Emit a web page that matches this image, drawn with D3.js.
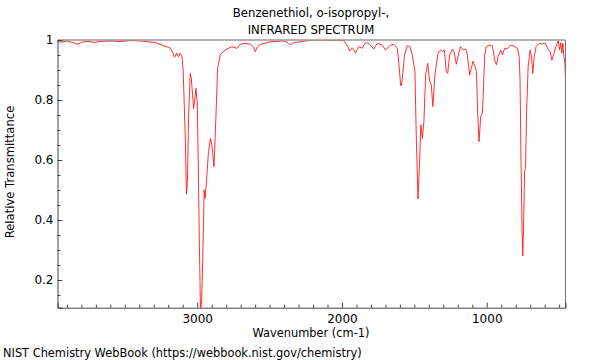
<!DOCTYPE html>
<html><head><meta charset="utf-8">
<script src="https://cdn.jsdelivr.net/npm/d3@7"></script>
<style>
body{margin:0;background:#fff;}
text{font-family:"DejaVu Sans",sans-serif;}
</style></head><body>
<svg id="c" width="600" height="360"></svg>
<script>
const titleLines = ["Benzenethiol, o-isopropyl-,", "INFRARED SPECTRUM"];
const xLabel = "Wavenumber (cm-1)";
const yLabel = "Relative Transmittance";
const footer = "NIST Chemistry WebBook (https://webbook.nist.gov/chemistry)";
const xDomain = [3965, 456];
const yDomain = [0.1077, 1];
const xMajorTicks = [3000, 2000, 1000];
const yMajorTicks = [0.2, 0.4, 0.6, 0.8, 1];
const wavenumber = [3965,3934,3900,3865,3830,3796,3754,3713,3671,3602,3533,3464,3394,3325,3291,3244,3208,3187,3170,3157,3140,3129,3118,3106,3097,3083,3074,3067,3060,3048,3041,3032,3025,3017,3009,3000,2993,2986,2977,2969,2958,2952,2945,2933,2922,2908,2896,2884,2871,2859,2841,2806,2760,2725,2702,2668,2633,2612,2599,2585,2564,2495,2403,2370,2356,2339,2322,2218,2080,1988,1964,1946,1929,1918,1907,1884,1860,1844,1826,1803,1780,1756,1722,1699,1664,1642,1618,1606,1595,1590,1583,1568,1549,1531,1514,1496,1487,1475,1464,1455,1445,1434,1422,1408,1394,1383,1372,1358,1337,1318,1306,1293,1279,1270,1256,1237,1226,1210,1196,1182,1164,1145,1134,1118,1106,1095,1081,1071,1062,1053,1042,1030,1023,1014,1004,984,961,945,933,922,903,892,876,857,834,811,788,776,770,763,756,751,746,739,732,725,714,700,691,682,672,659,638,615,596,580,562,550,539,522,506,497,488,481,474,467,460,453];
const transmittance = [0.995,0.993,0.997,0.992,0.986,0.993,0.995,0.992,0.995,0.997,0.995,0.998,0.997,0.993,0.992,0.983,0.977,0.973,0.96,0.943,0.956,0.944,0.956,0.947,0.90,0.683,0.486,0.533,0.739,0.889,0.872,0.817,0.772,0.80,0.839,0.794,0.60,0.35,0.093,0.133,0.35,0.50,0.472,0.55,0.628,0.672,0.639,0.578,0.739,0.906,0.95,0.967,0.978,0.972,0.986,0.989,0.986,0.977,0.961,0.977,0.985,0.994,0.997,0.99,0.983,0.99,0.992,0.999,0.999,0.998,0.983,0.963,0.974,0.967,0.956,0.978,0.972,0.987,0.992,0.983,0.97,0.989,0.983,0.967,0.983,0.986,0.972,0.917,0.85,0.847,0.872,0.95,0.981,0.978,0.95,0.894,0.683,0.47,0.594,0.717,0.672,0.728,0.883,0.922,0.861,0.85,0.778,0.883,0.956,0.967,0.961,0.967,0.894,0.889,0.95,0.97,0.961,0.919,0.95,0.978,0.967,0.97,0.95,0.883,0.906,0.93,0.911,0.894,0.75,0.661,0.744,0.756,0.833,0.95,0.977,0.983,0.98,0.933,0.917,0.944,0.967,0.95,0.972,0.972,0.983,0.98,0.972,0.944,0.867,0.589,0.367,0.28,0.367,0.556,0.578,0.756,0.911,0.967,0.944,0.889,0.944,0.978,0.989,0.987,0.989,0.972,0.961,0.933,0.95,0.978,0.998,0.967,0.991,0.956,0.989,0.944,0.922,0.828];

const svg = d3.select("#c");
const L = 57.5, R = 565.5, T = 40, B = 307.7;
const x = d3.scaleLinear().domain(xDomain).range([L, R]);
const y = d3.scaleLinear().domain(yDomain).range([B, T]);

// title
svg.selectAll("text.title").data(titleLines).enter().append("text")
  .attr("x", 311).attr("y", (d,i)=> 17 + i*17).attr("text-anchor","middle")
  .attr("font-size", 11.7).attr("fill","#000").text(d=>d);

// clip
svg.append("clipPath").attr("id","clip").append("rect")
  .attr("x", L).attr("y", T).attr("width", R-L).attr("height", B-T);

// line
const line = d3.line().x((d,i)=>x(wavenumber[i])).y((d,i)=>y(transmittance[i]));
svg.append("path").datum(wavenumber).attr("clip-path","url(#clip)")
  .attr("d", line).attr("fill","none").attr("stroke","#ff1a1a").attr("stroke-width",0.9);

// frame top/right
svg.append("line").attr("x1",L).attr("x2",R).attr("y1",T).attr("y2",T).attr("stroke","#999").attr("stroke-width",1.5);
svg.append("line").attr("x1",R).attr("x2",R).attr("y1",T).attr("y2",B).attr("stroke","#777").attr("stroke-width",1);

// axes
const xMinor = d3.range(500, 4000, 100).filter(v=>v%1000!==0 && v<=xDomain[0]);
const yMinor = d3.range(0.15, 1.0, 0.05).map(v=>+v.toFixed(2)).filter(v=>Math.abs(v*10-Math.round(v*10))>0.01 || Math.round(v*10)%2===1);

const gx = svg.append("g").attr("transform",`translate(0,${B})`)
  .call(d3.axisBottom(x).tickValues(xMajorTicks).tickSize(-5).tickPadding(4).tickFormat(d3.format("d")));
svg.append("g").attr("transform",`translate(0,${B})`)
  .call(d3.axisBottom(x).tickValues(xMinor).tickSize(-3).tickFormat(""))
  .call(g=>g.select(".domain").remove());
const gy = svg.append("g").attr("transform",`translate(${L},0)`)
  .call(d3.axisLeft(y).tickValues(yMajorTicks).tickSize(-5).tickPadding(4).tickFormat(d=> d===1 ? "1" : d.toFixed(1)));
svg.append("g").attr("transform",`translate(${L},0)`)
  .call(d3.axisLeft(y).tickValues(yMinor).tickSize(-3).tickFormat(""))
  .call(g=>g.select(".domain").remove());

svg.selectAll(".domain").attr("stroke","#444");
svg.selectAll(".tick line").attr("stroke","#444");
svg.selectAll(".tick text").attr("font-size",12).attr("fill","#000").attr("font-family","DejaVu Sans");
gx.selectAll(".tick text").attr("dy","0.95em");

// labels
svg.append("text").attr("x",311).attr("y",337).attr("text-anchor","middle").attr("font-size",11.4).text(xLabel);
svg.append("text").attr("transform",`translate(14,172) rotate(-90)`).attr("text-anchor","middle").attr("font-size",11.6).text(yLabel);
svg.append("text").attr("x",3).attr("y",357).attr("font-size",11.4).text(footer);
</script>
</body></html>
